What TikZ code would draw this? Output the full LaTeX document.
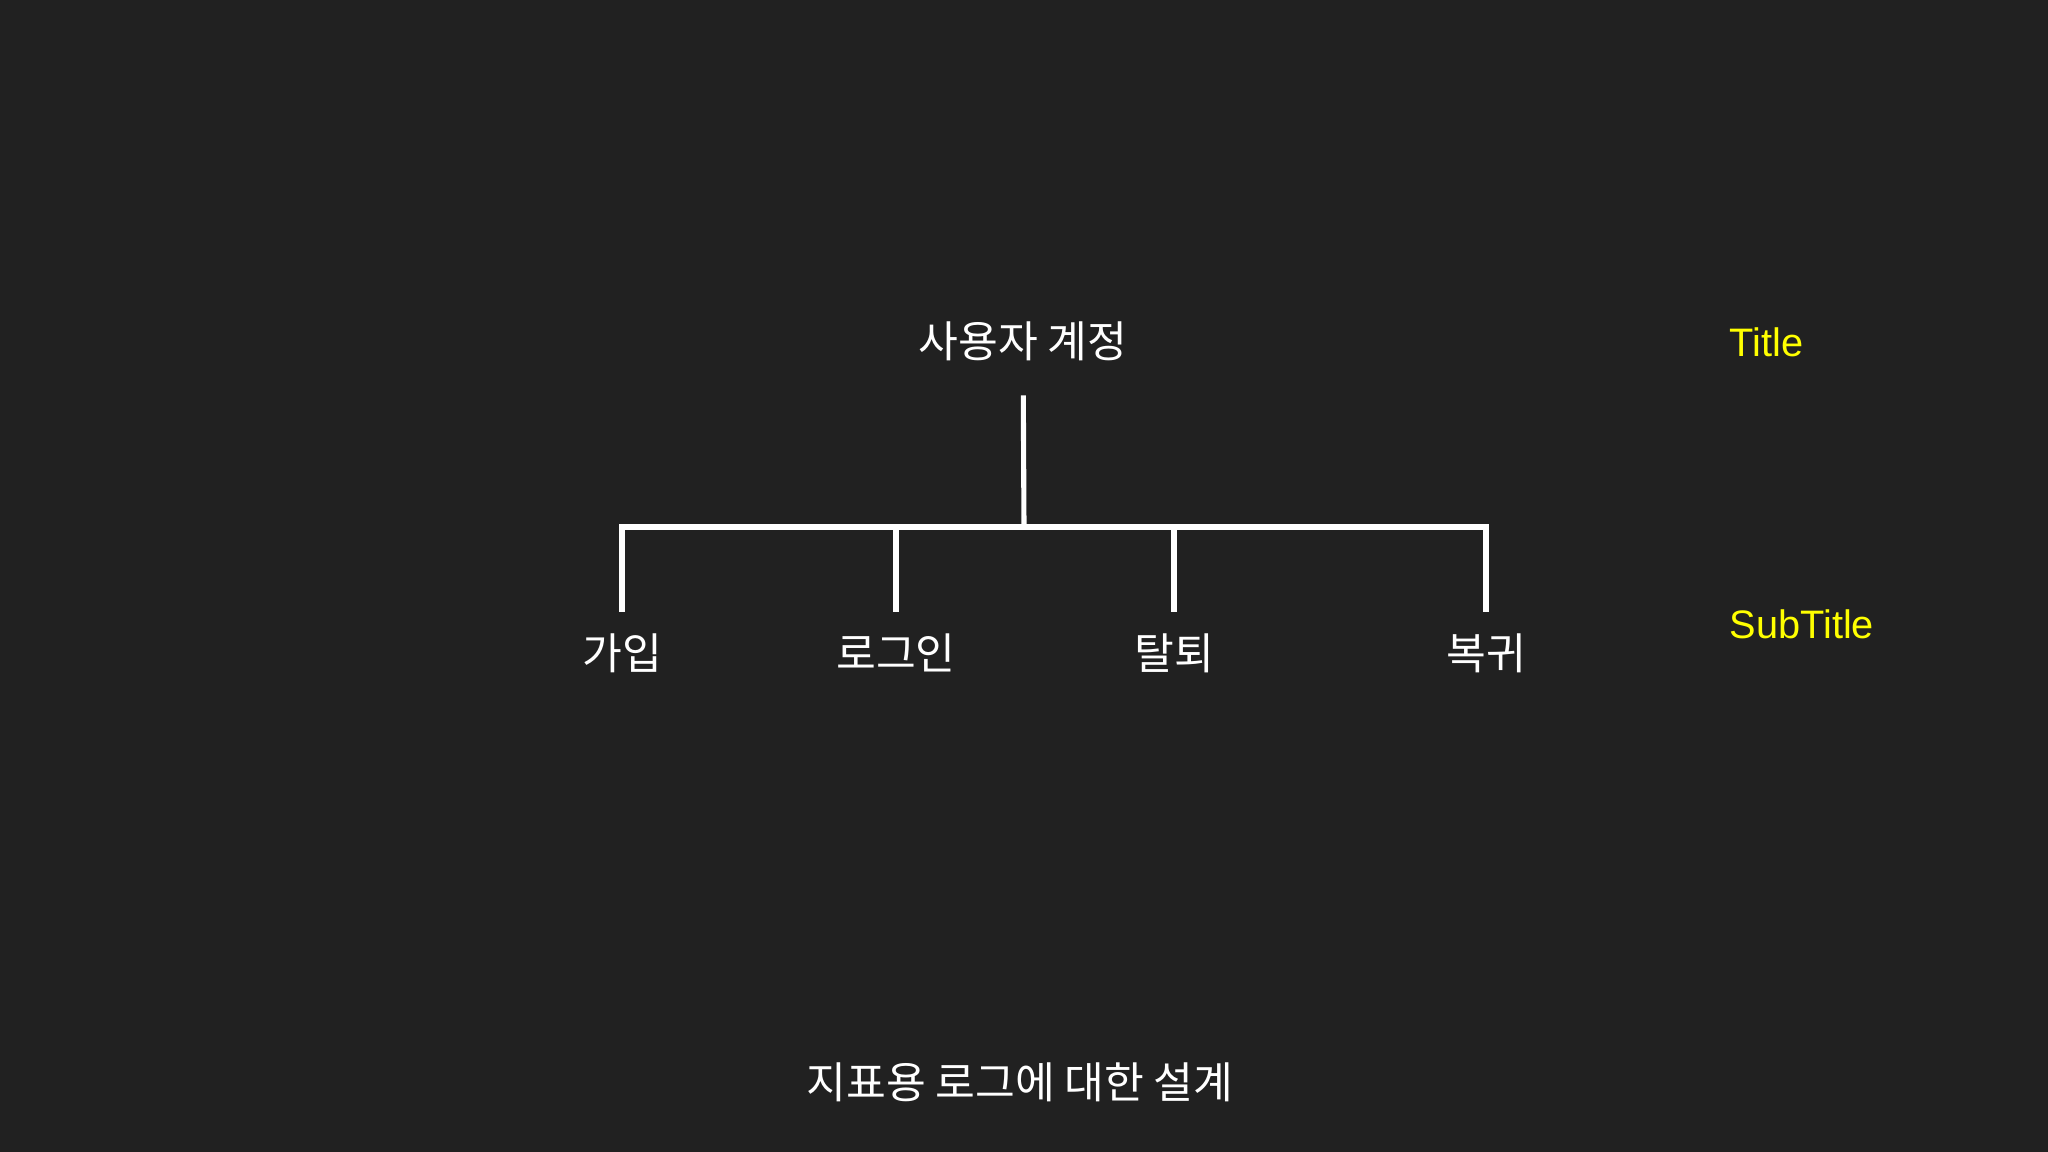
\documentclass[tikz,border=0pt]{standalone}
\usepackage{fontspec}
\setmainfont{Liberation Sans}
\newfontfamily\kor{Noto Sans CJK KR}
\usepackage{tikz}
\usetikzlibrary{positioning}
\definecolor{slide}{RGB}{33,33,33}
\definecolor{note}{RGB}{255,255,0}
\tikzset{
  branch/.style={white, line width=1.45pt, line cap=rect},
  kword/.style={white, inner sep=0pt, font=\kor\fontsize{12.3}{14}\selectfont},
  tag/.style={note, inner sep=0pt, anchor=west, font=\fontsize{11.3}{13}\selectfont}
}

\begin{document}
\begin{tikzpicture}[x=0.01cm, y=-0.01cm]
\fill[slide] (0,0) rectangle (2048,1152);
% top of the tree
\node[kword] (root) at (1023,341) {사용자 계정};
\coordinate (hub) at (1024,527);
% children
\node[kword] (join) at (622,653) {가입};
\node[kword] (login) at (896,653) {로그인};
\node[kword] (leave) at (1174,653) {탈퇴};
\node[kword] (back) at (1486,653) {복귀};
% lines
\draw[branch, shorten <=0.57cm] (root.center) -- (hub);
\draw[branch] (join |- hub) -- (back |- hub);
\foreach \leaf in {join,login,leave,back}
  \draw[branch, shorten >=0.44cm] (\leaf |- hub) -- (\leaf.center);
% notes on the right
\node[tag] (title) at (1729,342) {Title};
\node[tag] (subtitle) at (1729,624) {SubTitle};
\node[kword] (caption) at (1020,1082) {지표용 로그에 대한 설계};
\end{tikzpicture}
\end{document}
